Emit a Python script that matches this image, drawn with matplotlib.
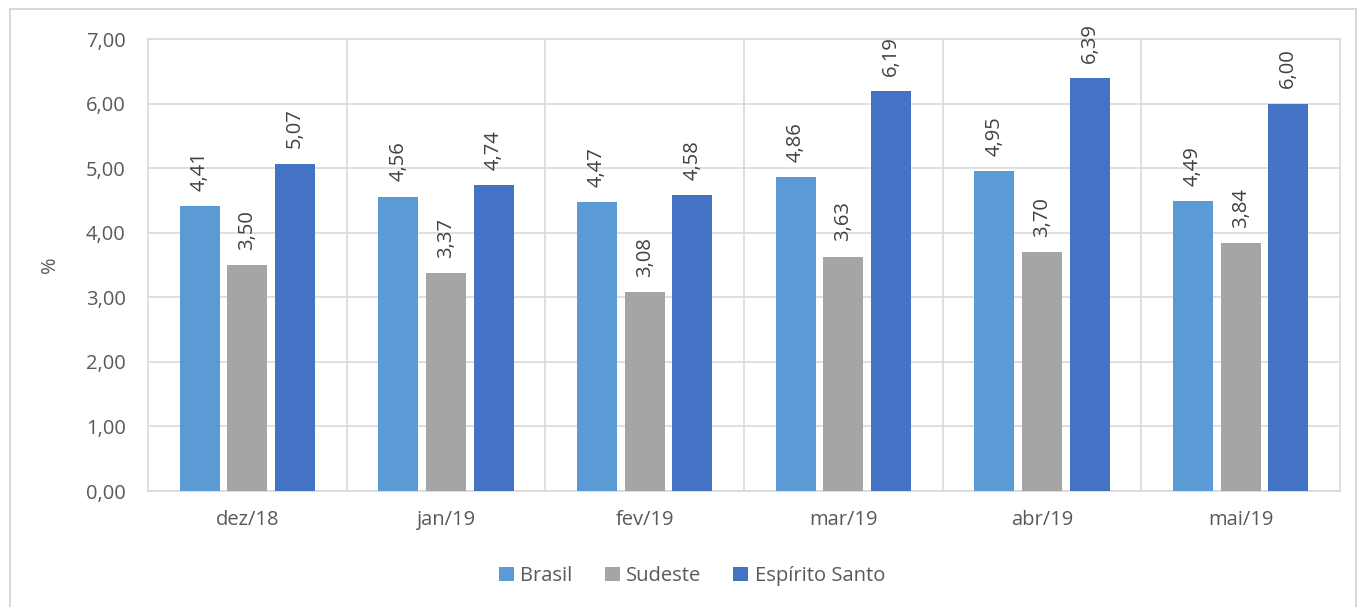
import matplotlib
matplotlib.use("Agg")
import matplotlib.pyplot as plt
import numpy as np
from matplotlib.patches import Rectangle

categories = ["dez/18", "jan/19", "fev/19", "mar/19", "abr/19", "mai/19"]
brasil = [4.41, 4.56, 4.47, 4.86, 4.95, 4.49]
sudeste = [3.50, 3.37, 3.08, 3.63, 3.70, 3.84]
espirito_santo = [5.07, 4.74, 4.58, 6.19, 6.39, 6.00]
series_names = ["Brasil", "Sudeste", "Espírito Santo"]
colors = ["#5B9BD5", "#A5A5A5", "#4472C4"]
yticks = [0, 1, 2, 3, 4, 5, 6, 7]

plt.rcParams['font.family'] = ['Open Sans', 'DejaVu Sans']
text_color = "#595959"
fs = 14.5

fig = plt.figure(figsize=(13.6, 6.07), dpi=100)
ax = fig.add_axes([148/1360, 1 - 491/607, (1340-148)/1360, (491-39)/607])

x = np.arange(len(categories))
offsets = [-0.24, 0, 0.24]
width = 0.2
for vals, off, col, name in zip([brasil, sudeste, espirito_santo], offsets, colors, series_names):
    bars = ax.bar(x + off, vals, width, color=col, label=name, zorder=3)
    for b, v in zip(bars, vals):
        ax.annotate(f"{v:.2f}".replace(".", ","), (b.get_x() + b.get_width()/2, v),
                    xytext=(0, 11), textcoords="offset points", rotation=90,
                    ha="center", va="bottom", fontsize=fs, color="#404040")

ax.set_xlim(-0.5, len(categories) - 0.5)
ax.set_ylim(0, 7)
ax.set_yticks(yticks)
ax.set_yticklabels([f"{t:.2f}".replace(".", ",") for t in yticks], fontsize=fs, color=text_color)
ax.set_xticks(x)
ax.set_xticklabels(categories, fontsize=fs, color=text_color)
ax.tick_params(axis='y', length=0, pad=16)
ax.tick_params(axis='x', length=0, pad=14)
ax.yaxis.grid(True, color="#D9D9D9", linewidth=1.2, zorder=0)
for b in np.arange(0.5, len(categories) - 0.5, 1):
    ax.axvline(b, color="#D9D9D9", linewidth=1.2, zorder=0)
for s in ax.spines.values():
    s.set_color("#D9D9D9")
    s.set_linewidth(1.2)
ax.set_ylabel("%", fontsize=fs, color=text_color, labelpad=19)

leg = fig.legend(loc="center", bbox_to_anchor=(692/1360, 1 - 576/607), ncol=3, frameon=False,
                 fontsize=fs, handlelength=0.75, handleheight=0.75, handletextpad=0.3,
                 columnspacing=1.6)
for t in leg.get_texts():
    t.set_color(text_color)

fig.patches.append(Rectangle((9.5/1360, -10/607), 1346/1360, 608/607, transform=fig.transFigure,
                             fill=False, edgecolor="#D9D9D9", linewidth=1.5))

fig.savefig("out.png", dpi=100)
